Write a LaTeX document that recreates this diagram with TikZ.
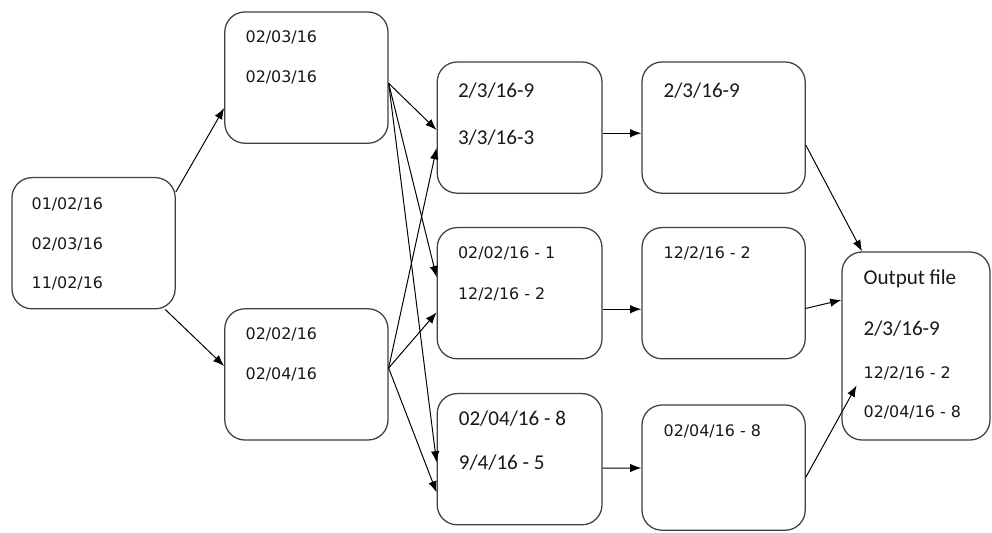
\documentclass[tikz,border=0pt]{standalone}
\usepackage{fontspec}
\setmainfont{Carlito}
\newfontfamily\verdanalike{DejaVu Sans}
\usetikzlibrary{arrows.meta}
\tikzset{%
    stage/.style={%
        draw=black!75, line width=0.9pt, rounded corners=0.5cm,
        minimum width=4.08cm, minimum height=3.28cm, inner sep=0pt
    },
    smalldate/.style={%
        anchor=west, inner sep=0pt, text=black!90,
        font=\verdanalike\fontsize{11.3}{13}\selectfont
    },
    bigdate/.style={%
        anchor=west, inner sep=0pt, text=black!90,
        font=\fontsize{15}{18}\selectfont
    },
    flow/.style={%
        -{Latex[length=8pt,width=6pt]}, line width=0.7pt
    }
}

\begin{document}
\begin{tikzpicture}
    \useasboundingbox[fill=white] (0,0) rectangle (24.8,-13.3);

    \node[stage] (in) at (2.34,-6.08) {};
    \node[stage] (s1) at (7.66,-1.94) {};
    \node[stage] (s2) at (7.66,-9.36) {};

    \node[stage, minimum width=4.12cm] (m1) at (12.99,-3.19) {};
    \node[stage, minimum width=4.12cm] (m2) at (12.99,-7.33) {};
    \node[stage, minimum width=4.12cm] (m3) at (12.99,-11.48) {};

    \node[stage] (r1) at (18.09,-3.19) {};
    \node[stage] (r2) at (18.09,-7.33) {};
    \node[stage, minimum height=3.13cm] (r3) at (18.09,-11.69) {};

    \node[stage, minimum width=3.7cm, minimum height=4.7cm] (out) at (22.9,-8.65) {};

    \node[smalldate] (in-1) at ([shift={(0.5,-0.68)}]in.north west) {01/02/16};
    \node[smalldate] (in-2) at ([shift={(0.5,-1.68)}]in.north west) {02/03/16};
    \node[smalldate] (in-3) at ([shift={(0.5,-2.65)}]in.north west) {11/02/16};

    \node[smalldate] (s1-1) at ([shift={(0.53,-0.65)}]s1.north west) {02/03/16};
    \node[smalldate] (s1-2) at ([shift={(0.53,-1.65)}]s1.north west) {02/03/16};
    \node[smalldate] (s2-1) at ([shift={(0.53,-0.65)}]s2.north west) {02/02/16};
    \node[smalldate] (s2-2) at ([shift={(0.53,-1.65)}]s2.north west) {02/04/16};

    \node[bigdate] (m1-1) at ([shift={(0.53,-0.73)}]m1.north west) {2/3/16-9};
    \node[bigdate] (m1-2) at ([shift={(0.53,-1.9)}]m1.north west) {3/3/16-3};
    \node[smalldate] (m2-1) at ([shift={(0.53,-0.65)}]m2.north west) {02/02/16 - 1};
    \node[smalldate] (m2-2) at ([shift={(0.53,-1.68)}]m2.north west) {12/2/16 - 2};
    \node[bigdate] (m3-1) at ([shift={(0.55,-0.65)}]m3.north west) {02/04/16 - 8};
    \node[bigdate] (m3-2) at ([shift={(0.55,-1.73)}]m3.north west) {9/4/16 - 5};

    \node[bigdate] (r1-1) at ([shift={(0.55,-0.73)}]r1.north west) {2/3/16-9};
    \node[smalldate] (r2-1) at ([shift={(0.55,-0.65)}]r2.north west) {12/2/16 - 2};
    \node[smalldate] (r3-1) at ([shift={(0.55,-0.68)}]r3.north west) {02/04/16 - 8};

    \node[bigdate] (out-1) at ([shift={(0.55,-0.7)}]out.north west) {Output file};
    \node[bigdate] (out-2) at ([shift={(0.55,-1.93)}]out.north west) {2/3/16-9};
    \node[smalldate] (out-3) at ([shift={(0.55,-3.05)}]out.north west) {12/2/16 - 2};
    \node[smalldate] (out-4) at ([shift={(0.55,-4.03)}]out.north west) {02/04/16 - 8};

    \draw[flow] ([yshift=1.28cm]in.east) -- ([yshift=-0.76cm]s1.west);
    \draw[flow] ([xshift=1.79cm]in.south) -- ([yshift=0.21cm]s2.west);

    \draw[flow] ([yshift=-0.14cm]s1.east) -- ([yshift=-0.06cm]m1.west);
    \draw[flow] ([yshift=-0.14cm]s1.east) -- ([yshift=0.4cm]m2.west);
    \draw[flow] ([yshift=-0.14cm]s1.east) -- ([yshift=-0.08cm]m3.west);
    \draw[flow] ([yshift=0.16cm]s2.east) -- ([yshift=-0.51cm]m1.west);
    \draw[flow] ([yshift=0.16cm]s2.east) -- ([yshift=-0.48cm]m2.west);
    \draw[flow] ([yshift=0.16cm]s2.east) -- ([yshift=-0.83cm]m3.west);

    \draw[flow] ([yshift=-0.14cm]m1.east) -- ([yshift=-0.14cm]r1.west);
    \draw[flow] ([yshift=-0.4cm]m2.east) -- ([yshift=-0.4cm]r2.west);
    \draw[flow] ([yshift=-0.22cm]m3.east) -- ([yshift=-0.01cm]r3.west);

    \draw[flow] ([yshift=-0.44cm]r1.east) -- ([xshift=-1.35cm]out.north);
    \draw[flow] ([yshift=-0.38cm]r2.east) -- ([yshift=1.15cm]out.west);
    \draw[flow] ([yshift=-0.24cm]r3.east) -- ([shift={(0.38,1.38)}]out.south west);
\end{tikzpicture}
\end{document}
